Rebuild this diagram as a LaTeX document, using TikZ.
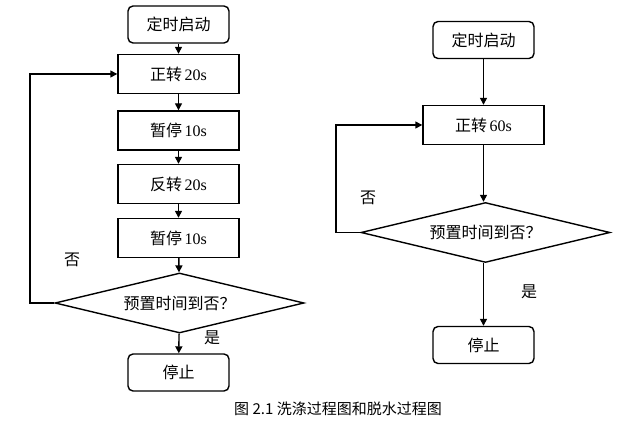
\documentclass[tikz,border=0pt]{standalone}
\usepackage{fontspec}
\setmainfont{Liberation Serif}
\newfontfamily\cjk{Noto Sans CJK SC}
\usetikzlibrary{shapes.geometric,arrows.meta}
\begin{document}
\begin{tikzpicture}[x=1pt,y=-1pt,
  every node/.style={font=\fontsize{16}{19}\selectfont},
  base/.style={draw, line width=1.4pt, inner sep=0pt},
  term/.style={base, rounded corners=5pt, minimum width=101pt, minimum height=37pt},
  proc/.style={base, minimum width=121pt, minimum height=39pt},
  dec/.style={base, diamond, aspect=4, minimum width=249pt, minimum height=60pt},
  arr/.style={line width=1.4pt, -{Triangle[length=7pt,width=7pt]}},
  lbl/.style={inner sep=0pt}]
\useasboundingbox (0,0) rectangle (643,446);
\fill[white] (0,0) rectangle (643,446);
% left chart
\node[term] (s1) at (178.5,24.5) {\cjk 定时启动};
\node[proc] (a1) at (178.5,74) {\cjk 正转\,\rmfamily 20s};
\node[proc] (a2) at (178.5,130.5) {\cjk 暂停\,\rmfamily 10s};
\node[proc] (a3) at (178.5,184) {\cjk 反转\,\rmfamily 20s};
\node[proc] (a4) at (178.5,238) {\cjk 暂停\,\rmfamily 10s};
\node[dec] (d1) at (179.5,303) {\cjk 预置时间到否？};
\node[term] (e1) at (178.5,372.5) {\cjk 停止};
\coordinate (c1) at (30,303);
\draw[arr] (s1) -- (a1);
\draw[arr] (a1) -- (a2);
\draw[arr] (a2) -- (a3);
\draw[arr] (a3) -- (a4);
\draw[arr] (a4) -- (d1);
\draw[arr] (d1) -- (e1);
\draw[arr] (d1.west) -- (c1) |- (a1.west);
\node[lbl] (n1) at (72,260) {\cjk 否};
\node[lbl] (y1) at (212,338) {\cjk 是};
% right chart
\node[term] (s2) at (483.5,40) {\cjk 定时启动};
\node[proc] (b1) at (483.5,125) {\cjk 正转\,\rmfamily 60s};
\node[dec] (d2) at (485.5,232.5) {\cjk 预置时间到否？};
\node[term] (e2) at (483.5,345) {\cjk 停止};
\coordinate (c2) at (336,232.5);
\draw[arr] (s2) -- (b1);
\draw[arr] (b1) -- (b1 |- d2.north);
\draw[arr] (d2.south -| e2) -- (e2);
\draw[arr] (d2.west) -- (c2) |- (b1.west);
\node[lbl] (n2) at (368,198) {\cjk 否};
\node[lbl] (y2) at (529,292) {\cjk 是};
% caption
\node[lbl, font=\fontsize{15}{18}\selectfont] (cap) at (338,409) {\cjk 图 2.1 洗涤过程图和脱水过程图};
\end{tikzpicture}
\end{document}
